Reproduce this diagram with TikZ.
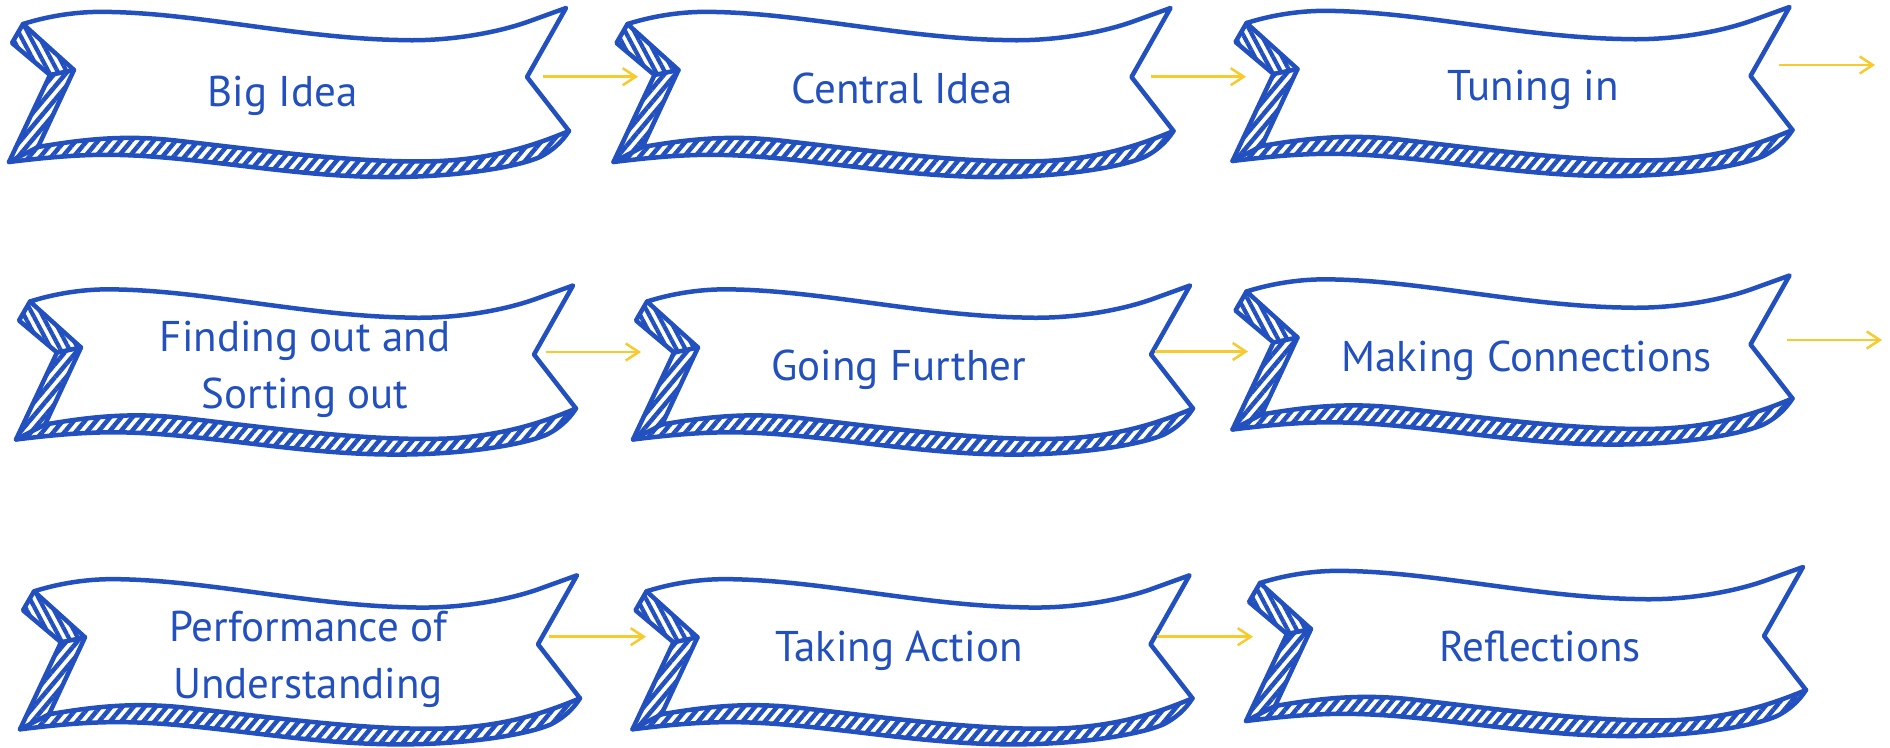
\documentclass[tikz,border=0pt]{standalone}
\usepackage{fontspec}
\setmainfont{PT Sans}
\usetikzlibrary{arrows.meta,patterns.meta}
\definecolor{rib}{HTML}{2250BE}
\definecolor{arr}{HTML}{F7CB2D}
\tikzset{
  ribline/.style={draw=rib, line width=4.5pt, line join=round, line cap=round},
  hatchA/.style={pattern={Lines[angle=-62,distance=8pt,line width=4.2pt]}, pattern color=rib},
  hatchB/.style={pattern={Lines[angle=50,distance=8.5pt,line width=4.5pt]}, pattern color=rib},
  bantext/.style={text=rib, font=\fontsize{43}{56.6}\selectfont, align=center, anchor=base, inner sep=0pt},
  flow/.style={draw=arr, line width=2.5pt, -{Straight Barb[length=13pt,width=17pt]}},
  pics/banner/.style={code={
    % hatched fold at top left
    \fill[hatchA] (23,24) -- (12,43) -- (50,75) -- (74,70) -- cycle;
    % hatched left + bottom strip
    \fill[hatchB] (50,75) -- (9,162)
       .. controls (50,157) and (85,154) .. (120,155)
       .. controls (200,157) and (290,176) .. (380,177)
       .. controls (450,178) and (515,168) .. (540,157)
       .. controls (552,151) and (562,142) .. (569,131)
       .. controls (540,143) and (500,158) .. (440,161)
       .. controls (360,164) and (260,150) .. (180,141)
       .. controls (130,135) and (90,138) .. (38,147)
       -- (74,70) -- cycle;
    % front face
    \draw[ribline, fill=white] (23,24)
       .. controls (55,14) and (85,11) .. (112,12)
       .. controls (200,14) and (300,38) .. (398,40)
       .. controls (450,42) and (500,32) .. (530,21)
       -- (566,8) -- (527,77) -- (569,131)
       .. controls (540,143) and (500,158) .. (440,161)
       .. controls (360,164) and (260,150) .. (180,141)
       .. controls (130,135) and (90,138) .. (38,147)
       -- (74,70) -- cycle;
    % tail outline
    \draw[ribline] (23,24) -- (12,43) -- (50,75) -- (9,162)
       .. controls (50,157) and (85,154) .. (120,155)
       .. controls (200,157) and (290,176) .. (380,177)
       .. controls (450,178) and (515,168) .. (540,157)
       .. controls (552,151) and (562,142) .. (569,131);
    \draw[ribline] (50,75) -- (74,70);
    \draw[ribline] (9,162) -- (38,147);
  }}
}
\begin{document}
\begin{tikzpicture}[x=1pt,y=-1pt]
\useasboundingbox[fill=white] (0,0) rectangle (1890,747);
% banners
\pic at (0,0) {banner};
\pic at (604.5,0) {banner};
\pic at (1223.5,-1) {banner};
\pic at (7,277.5) {banner};
\pic at (624,277.5) {banner};
\pic at (1223.5,267.5) {banner};
\pic at (11,567.3) {banner};
\pic at (623.5,567.3) {banner};
\pic at (1237,559) {banner};
% texts
\node[bantext] (t1) at (282.8,106) {Big Idea};
\node[bantext] (t2) at (902,103.3) {Central Idea};
\node[bantext] (t3) at (1533.3,100) {Tuning in};
\node[bantext] (t4) at (305,408.3) {Finding out and\\Sorting out};
\node[bantext] (t5) at (898.8,380) {Going Further};
\node[bantext] (t6) at (1526.7,371.7) {Making Connections};
\node[bantext] (t7) at (308,698.3) {Performance of\\Understanding};
\node[bantext] (t8) at (898.8,661.7) {Taking Action};
\node[bantext] (t9) at (1540,661.7) {Reflections};
% arrow ends
\coordinate (a1s) at (543,76.7);   \coordinate (a1e) at (638,76.7);
\coordinate (a2s) at (1151,76.7);  \coordinate (a2e) at (1246,76.7);
\coordinate (a3s) at (1779,65);    \coordinate (a3e) at (1875,65);
\coordinate (a4s) at (546,352);    \coordinate (a4e) at (641,352);
\coordinate (a5s) at (1155,351.5); \coordinate (a5e) at (1248,351.5);
\coordinate (a6s) at (1787,340);   \coordinate (a6e) at (1882,340);
\coordinate (a7s) at (549,636.7);  \coordinate (a7e) at (646,636.7);
\coordinate (a8s) at (1157,636.7); \coordinate (a8e) at (1253,636.7);
\draw[flow] (a1s) -- (a1e);
\draw[flow] (a2s) -- (a2e);
\draw[flow] (a3s) -- (a3e);
\draw[flow] (a4s) -- (a4e);
\draw[flow] (a5s) -- (a5e);
\draw[flow] (a6s) -- (a6e);
\draw[flow] (a7s) -- (a7e);
\draw[flow] (a8s) -- (a8e);
\end{tikzpicture}
\end{document}
